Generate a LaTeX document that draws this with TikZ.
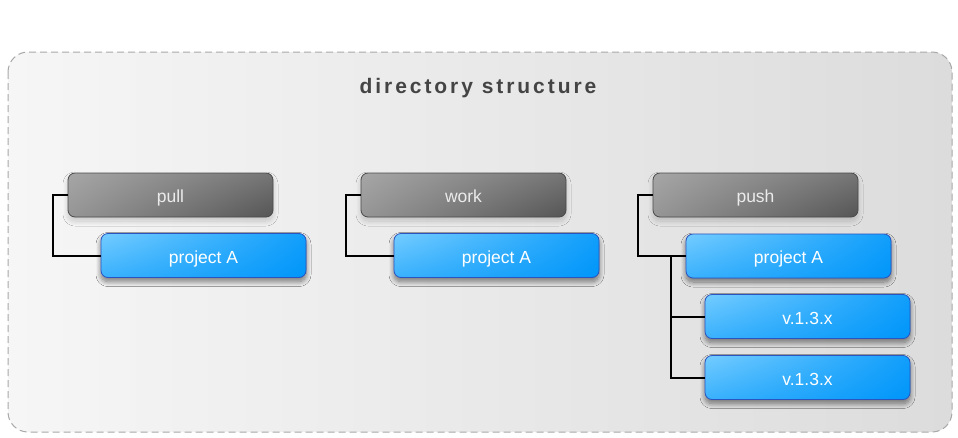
\documentclass[tikz,border=0pt]{standalone}
\usepackage{fontspec}
\setmainfont{Liberation Sans}
\newfontfamily\titlefont[LetterSpace=14]{Liberation Sans}
\usetikzlibrary{shadings,shadows.blur}

\definecolor{frameline}{HTML}{A8A8A8}
\definecolor{frameleft}{HTML}{F6F6F6}
\definecolor{frameright}{HTML}{DCDCDC}
\definecolor{dirlight}{HTML}{A6A6A6}
\definecolor{dirdark}{HTML}{555555}
\definecolor{dirline}{HTML}{4A4A4A}
\definecolor{projlight}{HTML}{74CCFF}
\definecolor{projdark}{HTML}{0096FA}
\definecolor{projline}{HTML}{2A55C0}
\definecolor{projglow}{HTML}{5A4FC0}
\definecolor{titlegray}{HTML}{444444}

\tikzset{
  dirbox/.style={rounded corners=7pt, draw=dirline, line width=0.8pt,
    upper left=dirlight, lower left=dirlight!80!dirdark,
    upper right=dirlight!40!dirdark, lower right=dirdark,
    minimum width=205pt, minimum height=44pt, text=white!92!black,
    text height=19pt, text depth=4pt,
    font=\fontsize{17.5}{20}\selectfont,
    blur shadow={shadow xshift=0pt, shadow yshift=-4pt, shadow blur radius=5pt,
      shadow blur steps=10, shadow opacity=18}},
  projbox/.style={dirbox, draw=projline,
    upper left=projlight, lower left=projlight!50!projdark,
    upper right=projdark!85!projlight, lower right=projdark, text=white,
    blur shadow={shadow xshift=0pt, shadow yshift=-4pt, shadow blur radius=5pt,
      shadow blur steps=10, shadow opacity=28, fill=projglow}},
  branch/.style={line width=2pt, black}
}

\begin{document}
\begin{tikzpicture}[x=1pt, y=-1pt]
	\useasboundingbox (0,0) rectangle (958,437);
	
	% frame
	\draw[frameline, line width=1pt, dash pattern=on 7pt off 4pt, rounded corners=20pt,
		left color=frameleft, right color=frameright] (8,52) rectangle (952,432);
	\node (title) at (478,88) {\titlefont\bfseries\color{titlegray}\fontsize{21}{24}\selectfont directory structure};
	
	% pull
	\node[dirbox] (pull) at (170.5,195) {pull};
	\node[projbox] (pullA) at (203.5,255.5) {project A};
	\draw[branch] (pull.west) -- ++(-15,0) |- (pullA.west);
	
	% work
	\node[dirbox] (work) at (463.5,195) {work};
	\node[projbox] (workA) at (496.5,255.5) {project A};
	\draw[branch] (work.west) -- ++(-15,0) |- (workA.west);
	
	% push
	\node[dirbox] (push) at (755.5,195) {push};
	\node[projbox] (pushA) at (788.5,256) {project A};
	\node[projbox] (verA) at (807.5,316.5) {v.1.3.x};
	\node[projbox] (verB) at (807.5,377.5) {v.1.3.x};
	\draw[branch] (push.west) -- ++(-15,0) |- (pushA.west);
	\coordinate (trunk) at ([xshift=-15pt]pushA.west);
	\draw[branch] (trunk) |- (verA.west);
	\draw[branch] (trunk) |- (verB.west);
\end{tikzpicture}
\end{document}
